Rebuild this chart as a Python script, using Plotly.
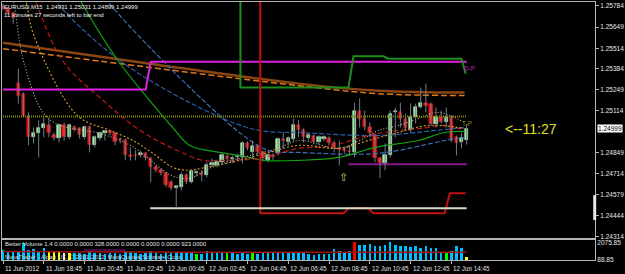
import plotly.graph_objects as go

# ---------------- data ----------------
bars = list(range(92))
date_tick_bars = [0, 8, 16, 24, 32, 40, 48, 56, 64, 72, 80, 88]
date_tick_text = ["11 Jun 2012", "11 Jun 18:45", "11 Jun 20:45", "11 Jun 22:45", "12 Jun 00:45",
                  "12 Jun 02:45", "12 Jun 04:45", "12 Jun 06:45", "12 Jun 08:45", "12 Jun 10:45",
                  "12 Jun 12:45", "12 Jun 14:45"]
price_ticks = [1.25784, 1.25649, 1.25514, 1.25384, 1.25249, 1.25114, 1.24849, 1.24714, 1.24579, 1.24444, 1.24314]

opens = [1.25784,1.25765,1.25740,1.25294,1.25224,1.25072,1.24945,1.24970,1.25002,1.25021,
         1.24957,1.24938,1.25021,1.24945,1.25008,1.25002,1.24945,1.25008,1.24894,1.24938,
         1.24970,1.24983,1.24970,1.24932,1.24925,1.24830,1.24830,1.24830,1.24843,1.24811,
         1.24754,1.24735,1.24716,1.24658,1.24620,1.24627,1.24703,1.24658,1.24716,1.24716,
         1.24703,1.24766,1.24766,1.24786,1.24824,1.24805,1.24817,1.24817,1.24906,1.24849,
         1.24887,1.24849,1.24798,1.24830,1.24843,1.24932,1.24913,1.24932,1.25021,1.24989,
         1.24938,1.24951,1.24913,1.24932,1.24938,1.24906,1.24875,1.24868,1.24855,1.24849,
         1.25116,1.25065,1.25008,1.24957,1.24811,1.24779,1.24830,1.25104,1.25104,1.25065,
         1.24989,1.25072,1.25142,1.25167,1.25161,1.25033,1.25078,1.25040,1.25072,1.24945,
         1.24913,1.24931]
highs = [1.25797,1.25778,1.25746,1.25383,1.25231,1.25104,1.25008,1.25053,1.25072,1.25065,
         1.24976,1.25033,1.25040,1.25033,1.25021,1.25008,1.25021,1.25021,1.24957,1.24983,
         1.24989,1.24989,1.24976,1.24945,1.24938,1.24881,1.24862,1.24862,1.24849,1.24817,
         1.24766,1.24747,1.24722,1.24671,1.24639,1.24722,1.24716,1.24741,1.24735,1.24735,
         1.24786,1.24811,1.24798,1.24849,1.24836,1.24830,1.24836,1.24919,1.24919,1.24925,
         1.24900,1.24862,1.24843,1.24843,1.24945,1.24976,1.24951,1.25065,1.25053,1.25002,
         1.24970,1.24964,1.24957,1.24957,1.24951,1.24925,1.24925,1.24887,1.24894,1.25167,
         1.25193,1.25116,1.25040,1.24970,1.24817,1.24906,1.25116,1.25135,1.25167,1.25097,
         1.25161,1.25161,1.25263,1.25288,1.25167,1.25135,1.25116,1.25135,1.25084,1.24957,
         1.24976,1.25031]
lows = [1.25759,1.25727,1.25670,1.25161,1.25072,1.24894,1.24906,1.24817,1.24945,1.24945,
        1.24925,1.24913,1.24925,1.24932,1.24983,1.24938,1.24932,1.24849,1.24881,1.24925,
        1.24925,1.24957,1.24894,1.24906,1.24798,1.24798,1.24798,1.24817,1.24798,1.24658,
        1.24722,1.24703,1.24627,1.24607,1.24493,1.24607,1.24646,1.24652,1.24696,1.24665,
        1.24690,1.24754,1.24754,1.24773,1.24786,1.24779,1.24798,1.24779,1.24862,1.24811,
        1.24836,1.24792,1.24786,1.24798,1.24830,1.24875,1.24894,1.24913,1.24945,1.24913,
        1.24925,1.24900,1.24900,1.24919,1.24894,1.24849,1.24766,1.24843,1.24830,1.24817,
        1.25008,1.24989,1.24945,1.24786,1.24684,1.24735,1.24817,1.24945,1.25008,1.24989,
        1.24976,1.25033,1.25129,1.25104,1.25021,1.25008,1.25033,1.25008,1.24913,1.24830,
        1.24875,1.24899]
closes = [1.25765,1.25740,1.25708,1.25212,1.25084,1.24945,1.24970,1.25002,1.25033,1.24970,
          1.24938,1.25021,1.24945,1.25021,1.24995,1.24957,1.25008,1.24894,1.24945,1.24970,
          1.24983,1.24970,1.24913,1.24925,1.24830,1.24817,1.24824,1.24843,1.24811,1.24754,
          1.24735,1.24716,1.24639,1.24620,1.24633,1.24703,1.24658,1.24728,1.24722,1.24703,
          1.24766,1.24779,1.24786,1.24830,1.24805,1.24811,1.24824,1.24906,1.24875,1.24887,
          1.24849,1.24811,1.24830,1.24817,1.24932,1.24919,1.24938,1.25027,1.24989,1.24945,
          1.24957,1.24913,1.24945,1.24945,1.24906,1.24875,1.24862,1.24855,1.24849,1.25116,
          1.25065,1.25008,1.24970,1.24811,1.24779,1.24830,1.25097,1.25116,1.25065,1.25002,
          1.25072,1.25142,1.25167,1.25148,1.25033,1.25072,1.25040,1.25078,1.24925,1.24906,
          1.24938,1.24999]

volumes = [1160, 950, 1070, 950, 2040, 1160, 1240, 1070, 1370, 1070,
           915, 950, 760, 830, 760, 830, 670, 1070, 830, 760,
           670, 760, 830, 670, 1040, 915, 790, 670, 790, 1040,
           790, 670, 915, 790, 915, 975, 790, 850, 730, 670,
           1070, 950, 760, 760, 950, 760, 670, 830, 670, 830,
           670, 760, 830, 760, 915, 760, 830, 950, 790, 830,
           670, 550, 670, 670, 670, 1240, 1070, 830, 1070, 2075.85,
           1770, 1770, 1890, 1650, 1650, 1770, 2050, 1770, 1650, 1650,
           1490, 1650, 1370, 1650, 1370, 1370, 950, 950, 1070, 1650,
           1370, 328]
vol_class = ["n"] * 92
for _i in [9, 10, 11, 13, 91]:
    vol_class[_i] = "low"
vol_class[12] = "white"
for _i in [38, 44, 49, 87]:
    vol_class[_i] = "churn"
vol_class[69] = "climax"
vol_avg_bar = [0, 30, 60, 91]
vol_avg_val = [990, 930, 900, 923]
vol_mag_bar = [16, 24]
vol_mag_val = [1160, 1160]

# indicator lines (bar index, price)
dp_bar = [0, 28, 29, 91]
dp_price = [1.25250, 1.25250, 1.25428, 1.25428]
hi_step_bar = [46.6, 46.6, 67.8, 68.8, 74.7, 75.6, 90.0, 90.8]
hi_step_price = [1.2600, 1.25263, 1.25263, 1.25462, 1.25462, 1.25447, 1.25447, 1.25351]
lo_step_bar = [50.5, 50.5, 66.9, 67.8, 71.7, 72.7, 86.7, 87.7, 90.8]
lo_step_price = [1.2600, 1.24461, 1.24461, 1.24493, 1.24493, 1.24461, 1.24461, 1.24588, 1.24588]
day_low_bar = [28.9, 91]
day_low_price = [1.24493, 1.24493]
purple_bar = [67.8, 91]
purple_price = [1.24773, 1.24773]
tp_bar = [0, 91]
tp_price = [1.25078, 1.25078]
ma_brown_bar = [0, 28.8, 58, 73.7, 90.6]
ma_brown_price = [1.25549, 1.25415, 1.25288, 1.25243, 1.25231]
ma_orange_bar = [0, 58, 73.7, 90.6]
ma_orange_price = [1.25511, 1.25275, 1.25224, 1.25212]
ma_blue_a_bar = [8, 10.3, 23, 41, 50.3, 58, 73.7, 84.8, 90.6]
ma_blue_a_price = [1.2595, 1.25816, 1.25434, 1.25097, 1.24989, 1.24976, 1.24957, 1.24989, 1.25008]
ma_blue_b_bar = [18, 20.5, 32.7, 40, 46.4, 52, 58, 73.7, 86.7, 90.6]
ma_blue_b_price = [1.2595, 1.25816, 1.25390, 1.25160, 1.24976, 1.24862, 1.24849, 1.24843, 1.24925, 1.24945]
ma_green_bar = [13, 15.2, 22.6, 28.8, 33.3, 36.6, 42.5, 46.4, 51.3, 58, 65.9, 73.1, 81.5, 86.7, 90.6]
ma_green_price = [1.2595, 1.25816, 1.25434, 1.25180, 1.25008, 1.24894, 1.24849, 1.24830, 1.24798, 1.24798,
                  1.24817, 1.24881, 1.24925, 1.24976, 1.24983]
ma_red_bar = [5, 6.4, 11.7, 19.7, 26.9, 33.3, 39.2, 42.5, 50.3, 58, 64, 71.7, 77.6, 82, 86.7, 89.3, 90.6]
ma_red_price = [1.2595, 1.25816, 1.25434, 1.25180, 1.24989, 1.24875, 1.24798, 1.24798, 1.24811, 1.24875,
                1.24887, 1.24957, 1.24989, 1.25002, 1.25021, 1.25002, 1.24995]
ma_beige_bar = [1, 2, 4, 8, 11.3, 19, 25, 29, 33, 36.6, 40.5, 46.4, 54, 58, 66, 70, 73.7, 77.6, 81.5, 85.4, 90.6]
ma_beige_price = [1.2590, 1.25816, 1.25434, 1.25097, 1.25021, 1.24970, 1.24894, 1.24798, 1.24703, 1.24684,
                  1.24747, 1.24811, 1.24875, 1.24925, 1.24875, 1.24925, 1.24989, 1.25021, 1.25065, 1.25104, 1.25040]
ma_yellow_bar = [3.5, 4.5, 6, 14.6, 21, 25.5, 29.4, 33.3, 36, 40, 46.4, 52.2, 58, 66, 71.7, 77.6, 83.4, 90.6]
ma_yellow_price = [1.2590, 1.25816, 1.25600, 1.25084, 1.24989, 1.24925, 1.24843, 1.24754, 1.24735, 1.24754,
                   1.24798, 1.24849, 1.24894, 1.24875, 1.24925, 1.24976, 1.25021, 1.25002]

header_text = "EURUSD,M15  1.24931 1.25031 1.24899 1.24999"
timer_text = "11 minutes 27 seconds left to bar end"
vol_text = "Better Volume 1.4 0.0000 0.0000 328.0000 0.0000 0.0000 0.0000 923.0000"
copyright_text = "MetaTrader - Alpari UK, \u00a9 2001-2012, MetaQuotes Software Corp."

# ---------------- styles ----------------
FONT = "Liberation Sans, Arial"
AX = "#b4b4b4"
FS = 6
vol_colors = {"n": "#00bfff", "low": "#ffff00", "white": "#f0f0f0", "churn": "#00ff00", "climax": "#ff0000"}

fig = go.Figure()

def line(xs, ys, color, width=1.2, dash="solid", shape="linear"):
    fig.add_trace(go.Scatter(x=xs, y=ys, mode="lines", line=dict(color=color, width=width, dash=dash, shape=shape),
                             hoverinfo="skip", showlegend=False, xaxis="x", yaxis="y"))

line(ma_brown_bar, ma_brown_price, "#8b4513", 2.5, shape="spline")
line(ma_orange_bar, ma_orange_price, "#e07a1a", 1.5, "6px,3px", shape="spline")
line(ma_blue_a_bar, ma_blue_a_price, "#2a5ea8", 1.2, "5px,2px", shape="spline")
line(ma_blue_b_bar, ma_blue_b_price, "#3a70b8", 1.2, "5px,2px", shape="spline")
line(ma_green_bar, ma_green_price, "#10a010", 1.2, shape="spline")
line(ma_red_bar, ma_red_price, "#c01818", 1.2, "5px,3px", shape="spline")
line(ma_beige_bar, ma_beige_price, "#c8c0a0", 1.1, "1px,2px", shape="spline")
line(ma_yellow_bar, ma_yellow_price, "#d8a028", 1.1, "2px,2px", shape="spline")
line(tp_bar, tp_price, "#8a8a00", 2, "1px,1px")
line(dp_bar, dp_price, "#e020e0", 2)
line(hi_step_bar, hi_step_price, "#1e8c1e", 2)
line(lo_step_bar, lo_step_price, "#c01010", 2)
line(day_low_bar, day_low_price, "#d8d8c8", 2)
line(purple_bar, purple_price, "#8a1a8a", 2)
fig.add_hline(y=closes[-1], line=dict(color="#8c8c8c", width=1), xref="x", yref="y")

# candles: wicks + bodies built from OHLC
wx, wy = [], []
for i, h, l in zip(bars, highs, lows):
    wx += [i, i, None]
    wy += [l, h, None]
fig.add_trace(go.Scatter(x=wx, y=wy, mode="lines", line=dict(color="#6e7e8c", width=1),
                         hoverinfo="skip", showlegend=False, xaxis="x", yaxis="y"))
body_base = [min(o, c) for o, c in zip(opens, closes)]
body_len = [max(abs(c - o), 0.00005) for o, c in zip(opens, closes)]
bull = [c >= o for o, c in zip(opens, closes)]
fig.add_trace(go.Bar(x=bars, y=body_len, base=body_base, width=0.66,
                     marker=dict(color=["#98f098" if b else "#ff1010" for b in bull],
                                 line=dict(color=["#c8f0c8" if b else "#a01818" for b in bull], width=0.6)),
                     hoverinfo="skip", showlegend=False, xaxis="x", yaxis="y"))

# volume panel
fig.add_trace(go.Bar(x=bars, y=volumes, width=0.5, marker=dict(color=[vol_colors[c] for c in vol_class], line=dict(width=0)),
                     xaxis="x2", yaxis="y2", hoverinfo="skip", showlegend=False))
fig.add_trace(go.Scatter(x=vol_avg_bar, y=vol_avg_val, mode="lines", line=dict(color="#a01010", width=1.5, shape="spline"),
                         xaxis="x2", yaxis="y2", hoverinfo="skip", showlegend=False))
fig.add_trace(go.Scatter(x=vol_mag_bar, y=vol_mag_val, mode="lines", line=dict(color="#c020c0", width=1.5, dash="1px,1px"),
                         xaxis="x2", yaxis="y2", hoverinfo="skip", showlegend=False))

xr = [-0.2, 116.2]
fig.update_layout(
    width=625, height=274, margin=dict(l=1, r=27, t=1, b=14),
    paper_bgcolor="#000000", plot_bgcolor="#000000",
    font=dict(family=FONT, size=FS, color="#e8e8e8"),
    showlegend=False, bargap=0, barmode="overlay",
    xaxis=dict(domain=[0, 1], range=xr, anchor="y", showgrid=False, zeroline=False, showticklabels=False,
               showline=True, mirror=True, linecolor=AX, linewidth=1, fixedrange=True),
    yaxis=dict(domain=[0.0849, 1], range=[1.24302, 1.25809], side="right", anchor="x", showgrid=False, zeroline=False,
               tickvals=price_ticks, ticktext=["%.5f" % v for v in price_ticks], ticks="outside", ticklen=3,
               tickcolor=AX, tickfont=dict(size=FS + 0.5, color="#e8e8e8", family=FONT),
               showline=True, mirror=True, linecolor=AX, linewidth=1),
    xaxis2=dict(domain=[0, 1], range=xr, anchor="y2", showgrid=False, zeroline=False, showticklabels=False,
                tickvals=date_tick_bars, ticks="outside", ticklen=3, tickcolor=AX,
                showline=True, mirror=True, linecolor=AX, linewidth=1),
    yaxis2=dict(domain=[0, 0.0772], range=[0, 2340], side="right", anchor="x2", showgrid=False, zeroline=False,
                tickvals=[88.85, 2075.85], ticktext=["88.85", "2075.85"], ticks="",
                tickfont=dict(size=FS + 0.5, color="#e8e8e8", family=FONT),
                showline=True, mirror=True, linecolor=AX, linewidth=1),
    shapes=[dict(type="rect", xref="paper", yref="y", x0=0.997, x1=1.002, y0=1.24417, y1=1.24576,
                 fillcolor="#e8e8e8", line=dict(width=0))],
)

ann = []
for b, t in zip(date_tick_bars, date_tick_text):
    ann.append(dict(x=b, y=0, xref="x2", yref="paper", text=t, showarrow=False, xanchor="left", yanchor="top",
                    yshift=-3, xshift=0, font=dict(size=FS + 0.3, color="#e0e0e0", family=FONT)))
ann += [
    dict(x=0, y=1, xref="paper", yref="paper", text=header_text, showarrow=False, xanchor="left", yanchor="top",
         xshift=0, yshift=0, font=dict(size=FS, color="#f0f0f0", family=FONT)),
    dict(x=0, y=1, xref="paper", yref="paper", text=timer_text, showarrow=False, xanchor="left", yanchor="top",
         xshift=0, yshift=-8, font=dict(size=FS, color="#f0f0f0", family=FONT)),
    dict(x=0, y=0.0618, xref="paper", yref="paper", text=vol_text, showarrow=False, xanchor="left", yanchor="middle",
         xshift=1, font=dict(size=FS, color="#e0e0e0", family=FONT)),
    dict(x=0, y=0.0116, xref="paper", yref="paper", text=copyright_text, showarrow=False, xanchor="left", yanchor="middle",
         xshift=1, font=dict(size=FS, color="#d0d0d0", family=FONT)),
    dict(x=1, y=closes[-1], xref="paper", yref="y", text="1.24999", showarrow=False, xanchor="left", yanchor="middle",
         xshift=2, bgcolor="#ffffff", borderpad=0, font=dict(size=FS + 0.5, color="#000000", family=FONT)),
    dict(x=98.2, y=closes[-1], xref="x", yref="y", text="<--11:27", showarrow=False, xanchor="left", yanchor="middle",
         font=dict(size=14, color="#e0e020", family="Liberation Sans")),
    dict(x=90.0, y=dp_price[-1], xref="x", yref="y", text="D-P", showarrow=False, xanchor="left", yanchor="top",
         yshift=-1, font=dict(size=FS + 0.5, color="#c020c0", family=FONT)),
    dict(x=89.7, y=tp_price[-1], xref="x", yref="y", text="T-P", showarrow=False, xanchor="left", yanchor="top",
         yshift=-1, font=dict(size=FS + 0.5, color="#8a8a00", family=FONT)),
    dict(x=66.9, y=lows[66], xref="x", yref="y", text="\u21e7", showarrow=False, xanchor="center", yanchor="top",
         yshift=-4, font=dict(size=11, color="#d8c070", family="DejaVu Sans")),
]
fig.update_layout(annotations=ann)

fig.write_html("out.html")
